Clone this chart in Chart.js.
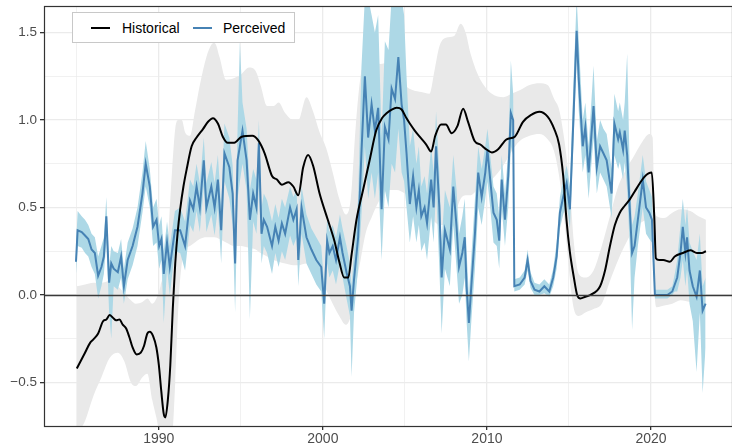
<!DOCTYPE html>
<html><head><meta charset="utf-8">
<script src="https://cdn.jsdelivr.net/npm/chart.js@4"></script>
<style>
body{margin:0;background:#fff;}
#wrap{position:relative;width:732px;height:445px;}
#legend{position:absolute;left:72px;top:12px;width:223px;height:31px;border:1px solid #c8c8c8;background:#fff;font-family:'Liberation Sans',Arial,sans-serif;font-size:14px;color:#000;box-sizing:border-box}
.key{position:absolute;top:14px;height:2px;width:19px}
.lab{position:absolute;top:7px;line-height:16px;white-space:nowrap}
</style></head><body>
<div id="wrap"><canvas id="c" width="732" height="445"></canvas>
<div id="legend">
 <div class="key" style="left:18px;background:#000"></div><div class="lab" style="left:49px">Historical</div>
 <div class="key" style="left:120px;background:#4682b4"></div><div class="lab" style="left:150px">Perceived</div>
</div></div>
<script>
// ---- Historical (smooth) series ----
const histYears = [1985.0,1985.5,1985.8,1986.0,1986.3,1986.6,1986.8,1987.0,1987.2,1987.4,1987.6,1987.8,1988.0,1988.2,1988.4,1988.65,1988.9,1989.1,1989.3,1989.45,1989.65,1989.85,1990.0,1990.15,1990.3,1990.4,1990.55,1990.7,1990.85,1991.0,1991.15,1991.3,1991.5,1991.7,1992.0,1992.3,1992.7,1993.0,1993.3,1993.6,1993.9,1994.2,1994.6,1995.05,1995.7,1996.05,1996.45,1996.9,1997.2,1997.5,1997.9,1998.2,1998.5,1998.8,1999.1,1999.4,1999.8,2000.3,2000.7,2001.0,2001.3,2001.55,2001.75,2002.05,2002.45,2002.85,2003.25,2003.6,2003.9,2004.2,2004.5,2004.8,2005.1,2005.3,2005.6,2005.9,2006.3,2006.6,2006.85,2007.2,2007.5,2007.85,2008.2,2008.55,2008.85,2009.25,2009.6,2010.0,2010.3,2010.7,2011.2,2011.7,2012.2,2012.7,2013.2,2013.7,2014.1,2014.4,2014.65,2014.85,2015.05,2015.3,2015.5,2015.7,2016.0,2016.3,2016.9,2017.2,2017.5,2017.8,2018.1,2018.4,2018.7,2019.0,2019.33,2019.6,2019.85,2020.05,2020.2,2020.3,2020.5,2020.75,2021.15,2021.45,2021.95,2022.4,2022.8,2023.1,2023.35];
const histValues = [-0.42,-0.33,-0.275,-0.255,-0.22,-0.15,-0.14,-0.115,-0.13,-0.145,-0.14,-0.17,-0.19,-0.24,-0.30,-0.34,-0.33,-0.29,-0.22,-0.21,-0.235,-0.30,-0.40,-0.55,-0.68,-0.70,-0.60,-0.40,-0.08,0.18,0.36,0.49,0.62,0.72,0.85,0.90,0.95,0.99,1.01,0.98,0.905,0.87,0.87,0.905,0.91,0.885,0.81,0.68,0.66,0.63,0.645,0.62,0.57,0.73,0.80,0.74,0.58,0.43,0.31,0.19,0.10,0.10,0.23,0.43,0.60,0.77,0.94,1.01,1.04,1.06,1.07,1.06,1.01,0.98,0.94,0.905,0.86,0.82,0.91,0.975,0.975,0.925,0.965,1.065,0.99,0.88,0.86,0.83,0.815,0.835,0.89,0.905,0.99,1.03,1.048,1.02,0.95,0.86,0.68,0.43,0.25,0.10,0.00,-0.02,-0.01,0.00,0.05,0.14,0.28,0.40,0.47,0.51,0.545,0.59,0.64,0.675,0.695,0.70,0.45,0.21,0.20,0.20,0.19,0.22,0.24,0.255,0.24,0.24,0.25];

// ---- Historical interval (grey band) ----
const histBandYears = [1985.0,1985.5,1986.0,1986.5,1987.0,1987.5,1987.9,1988.3,1988.6,1989.0,1989.3,1989.6,1989.85,1990.1,1990.5,1990.8,1991.0,1991.2,1991.4,1991.6,1991.9,1992.2,1992.5,1992.9,1993.2,1993.4,1993.7,1994.1,1994.6,1995.0,1995.5,1995.9,1996.2,1996.6,1997.0,1997.3,1997.7,1998.2,1998.5,1999.0,1999.4,1999.8,2000.2,2000.6,2001.0,2001.4,2001.7,2002.0,2002.3,2002.6,2003.0,2003.5,2004.0,2004.5,2005.0,2005.5,2006.0,2006.5,2006.8,2007.1,2007.5,2008.0,2008.4,2008.7,2009.0,2009.4,2009.8,2010.3,2011.0,2011.5,2012.0,2012.6,2013.2,2013.7,2014.1,2014.4,2014.7,2014.9,2015.1,2015.3,2015.6,2016.0,2016.5,2017.0,2017.5,2018.0,2018.5,2019.0,2019.5,2019.9,2020.1,2020.2,2020.35,2020.8,2021.3,2021.8,2022.4,2022.9,2023.35];
const histLow = [-0.80,-0.72,-0.58,-0.47,-0.36,-0.33,-0.38,-0.50,-0.52,-0.47,-0.45,-0.60,-0.70,-0.80,-0.80,-0.80,-0.50,-0.05,0.18,0.26,0.28,0.30,0.32,0.33,0.33,0.33,0.32,0.30,0.28,0.28,0.27,0.26,0.24,0.22,0.20,0.19,0.18,0.17,0.17,0.18,0.17,0.12,0.03,-0.05,-0.12,-0.17,-0.12,0.05,0.20,0.35,0.45,0.55,0.60,0.60,0.58,0.55,0.50,0.45,0.42,0.40,0.40,0.45,0.55,0.57,0.57,0.60,0.63,0.66,0.74,0.82,0.88,0.91,0.92,0.89,0.82,0.68,0.45,0.25,0.05,-0.08,-0.12,-0.10,-0.08,-0.05,0.08,0.20,0.30,0.38,0.42,0.43,0.40,0.05,-0.07,-0.06,-0.05,-0.03,-0.04,-0.05,-0.05];
const histHigh = [0.05,0.06,0.07,0.07,0.08,0.05,0.01,-0.03,-0.05,-0.04,-0.02,-0.05,-0.02,0.05,0.25,0.70,0.95,1.00,1.00,0.93,0.91,1.05,1.20,1.36,1.43,1.44,1.36,1.23,1.24,1.26,1.30,1.28,1.20,1.08,1.08,1.10,1.04,1.00,1.00,1.13,1.05,0.93,0.84,0.70,0.55,0.46,0.55,0.96,1.25,1.33,1.34,1.32,1.33,1.28,1.20,1.17,1.16,1.15,1.28,1.42,1.47,1.48,1.55,1.50,1.38,1.27,1.20,1.15,1.13,1.15,1.17,1.20,1.21,1.20,1.12,1.06,0.90,0.75,0.55,0.30,0.12,0.10,0.14,0.28,0.45,0.62,0.72,0.80,0.88,0.92,0.90,0.55,0.45,0.44,0.47,0.49,0.48,0.45,0.43];

// ---- Perceived series and its interval (blue band) ----
const percYears = [1984.95,1985.05,1985.3,1985.5,1985.7,1985.9,1986.1,1986.3,1986.5,1986.65,1986.8,1986.97,1987.1,1987.25,1987.5,1987.7,1987.87,1988.1,1988.4,1988.7,1989.0,1989.2,1989.45,1989.65,1989.86,1990.02,1990.16,1990.3,1990.5,1990.67,1990.98,1991.3,1991.6,1991.9,1992.1,1992.3,1992.5,1992.74,1992.9,1993.2,1993.4,1993.6,1993.8,1994.0,1994.3,1994.5,1994.65,1994.8,1994.94,1995.1,1995.35,1995.55,1995.75,1995.95,1996.1,1996.26,1996.4,1996.6,1996.9,1997.1,1997.3,1997.5,1997.7,1998.0,1998.2,1998.4,1998.5,1998.7,1999.0,1999.3,1999.6,1999.9,2000.08,2000.26,2000.4,2000.6,2000.8,2001.04,2001.2,2001.44,2001.65,2001.75,2001.9,2002.15,2002.35,2002.56,2002.76,2002.97,2003.17,2003.37,2003.58,2003.78,2004.0,2004.19,2004.4,2004.6,2004.8,2004.95,2005.1,2005.3,2005.5,2005.7,2005.85,2006.0,2006.2,2006.35,2006.6,2006.75,2006.9,2007.1,2007.24,2007.44,2007.74,2007.95,2008.15,2008.3,2008.5,2008.65,2008.76,2008.9,2009.07,2009.27,2009.47,2009.68,2009.9,2010.03,2010.2,2010.4,2010.6,2010.75,2010.9,2011.1,2011.3,2011.46,2011.6,2011.67,2012.0,2012.3,2012.48,2012.66,2012.9,2013.2,2013.5,2013.8,2014.04,2014.25,2014.45,2014.65,2014.86,2015.06,2015.27,2015.47,2015.6,2015.84,2016.0,2016.2,2016.5,2016.7,2016.9,2017.1,2017.3,2017.6,2017.77,2018.0,2018.1,2018.3,2018.4,2018.55,2018.72,2018.85,2019.0,2019.2,2019.5,2019.7,2019.9,2020.06,2020.24,2020.6,2021.0,2021.3,2021.45,2021.6,2021.8,2021.94,2022.1,2022.2,2022.35,2022.55,2022.78,2022.98,2023.15,2023.33];
const percValues = [0.19,0.37,0.36,0.34,0.32,0.26,0.24,0.11,0.16,0.22,0.45,0.07,0.18,0.15,0.13,0.22,0.05,0.20,0.28,0.39,0.58,0.75,0.62,0.39,0.43,0.28,0.32,0.12,0.30,0.16,0.37,0.37,0.28,0.54,0.49,0.62,0.50,0.77,0.50,0.62,0.50,0.66,0.37,0.81,0.73,0.58,0.18,0.77,0.85,0.94,0.77,0.43,0.58,0.50,0.87,0.35,0.43,0.39,0.28,0.39,0.31,0.41,0.35,0.50,0.43,0.49,0.20,0.50,0.33,0.26,0.20,0.16,-0.05,0.31,0.24,0.28,0.20,0.33,0.24,0.13,0.05,-0.09,0.09,0.33,0.81,1.25,0.90,1.09,0.94,1.07,0.49,0.96,0.89,1.18,1.12,1.36,1.09,1.00,0.81,0.52,0.68,0.50,0.60,0.45,0.50,0.41,0.66,0.50,0.85,0.50,0.10,0.37,0.26,0.62,0.39,0.16,0.24,0.33,0.05,-0.16,0.08,0.35,0.70,0.56,0.70,0.83,0.66,0.47,0.43,0.31,0.66,0.43,0.68,1.04,1.00,0.05,0.06,0.10,0.20,0.08,0.03,0.02,0.05,0.02,0.10,0.22,0.47,0.56,0.64,0.49,1.00,1.51,1.23,0.85,0.96,0.70,1.08,0.73,0.85,0.81,0.77,0.58,0.98,0.89,0.93,0.83,0.94,0.80,0.47,0.24,0.28,0.43,0.66,0.50,0.47,0.43,0.00,0.00,0.00,0.02,0.06,0.10,0.24,0.39,0.24,0.33,0.14,0.05,-0.01,0.14,-0.09,-0.05];
const percLow = [0.12,0.28,0.27,0.24,0.22,0.16,0.12,-0.02,0.05,0.12,0.30,-0.10,-0.25,0.05,0.03,0.10,-0.05,0.09,0.17,0.28,0.47,0.62,0.50,0.28,0.30,0.15,0.20,-0.16,0.15,0.00,0.25,0.24,0.14,0.40,0.36,0.48,0.36,0.62,0.36,0.46,0.34,0.50,0.18,0.65,0.55,0.40,-0.10,0.55,0.65,0.75,0.60,-0.14,0.42,0.35,0.62,0.18,0.28,0.24,0.12,0.24,0.16,0.25,0.20,0.34,0.28,0.33,0.05,0.35,0.18,0.12,0.06,0.02,-0.25,0.18,0.10,0.14,0.06,0.18,0.10,-0.02,-0.12,-0.47,-0.10,0.15,0.45,0.85,0.55,0.70,0.55,0.70,0.20,0.60,0.50,0.75,0.70,0.95,0.70,0.65,0.50,0.30,0.45,0.30,0.40,0.25,0.30,0.20,0.45,0.30,0.60,0.15,-0.22,0.15,0.05,0.40,0.15,-0.05,0.00,0.10,-0.15,-0.38,-0.12,0.15,0.50,0.40,0.55,0.65,0.50,0.30,0.28,0.15,0.50,0.28,0.50,0.85,0.80,0.02,0.03,0.06,0.14,0.04,0.00,0.00,0.01,-0.01,0.05,0.15,0.38,0.46,0.52,0.38,0.85,1.35,1.05,0.70,0.80,0.55,0.90,0.58,0.70,0.66,0.62,0.44,0.80,0.72,0.76,0.66,0.76,0.60,0.25,-0.20,0.10,0.28,0.50,0.35,0.32,0.30,-0.02,-0.02,-0.02,0.00,0.02,0.02,0.10,0.20,0.05,0.15,-0.05,-0.15,-0.44,-0.10,-0.56,-0.30];
const percHigh = [0.28,0.48,0.45,0.43,0.40,0.35,0.33,0.22,0.28,0.33,0.56,0.16,0.28,0.25,0.24,0.32,0.15,0.30,0.38,0.50,0.70,0.88,0.72,0.50,0.55,0.40,0.45,0.25,0.42,0.28,0.48,0.50,0.42,0.66,0.62,0.75,0.64,0.90,0.64,0.76,0.64,0.80,0.50,0.98,0.90,0.74,0.35,0.95,1.45,1.10,0.95,0.60,0.72,0.66,1.00,0.50,0.58,0.54,0.42,0.52,0.44,0.55,0.50,0.62,0.56,0.60,0.32,0.62,0.46,0.38,0.33,0.28,0.06,0.44,0.36,0.40,0.33,0.46,0.38,0.28,0.18,0.05,0.25,0.55,1.30,1.70,1.70,1.60,1.50,1.60,0.90,1.45,1.40,1.70,1.70,1.70,1.70,1.60,1.25,0.85,0.95,0.75,0.85,0.62,0.68,0.58,0.85,0.70,1.05,0.70,0.30,0.60,0.50,0.80,0.60,0.35,0.45,0.55,0.25,0.00,0.25,0.55,0.85,0.72,0.85,0.95,0.80,0.62,0.58,0.45,0.80,0.58,0.82,1.34,1.15,0.09,0.10,0.14,0.26,0.13,0.07,0.06,0.09,0.06,0.15,0.30,0.56,0.66,0.74,0.62,1.20,1.70,1.45,1.00,1.10,0.85,1.31,0.88,1.00,0.95,0.92,0.72,1.15,1.05,1.10,1.00,1.10,1.38,0.65,0.40,0.45,0.58,0.80,0.65,0.60,0.56,0.03,0.03,0.03,0.05,0.12,0.20,0.40,0.55,0.40,0.50,0.30,0.25,0.20,0.35,0.05,0.10];

// ---- Axis ticks ----
const xTickValues = [1985,1990,1995,2000,2005,2010,2015,2020];
const xLabelled = [1990,2000,2010,2020];
const yTickValues = [-0.5,-0.25,0,0.25,0.5,0.75,1,1.25,1.5];
const yLabelled = [-0.5,0,0.5,1,1.5];
const xRange = [1983.0, 2024.94];
const yRange = [-0.749, 1.652];
const zeroLevel = 0;

const pts = (xs, ys) => xs.map((x, i) => ({x: x, y: ys[i]}));
const isLab = (arr, v) => arr.some(a => Math.abs(a - v) < 1e-9);
const fmtY = v => (v < 0 ? '\u2212' : '') + Math.abs(v).toFixed(1);

Chart.defaults.font.family = "'Liberation Sans', Arial, sans-serif";

const framePlugin = {
  id: 'frame',
  afterDatasetsDraw(chart) {
    const {ctx, chartArea: a, scales} = chart;
    const y0 = Math.round(scales.y.getPixelForValue(zeroLevel)) + 0.5;
    ctx.save();
    ctx.strokeStyle = '#3a3a3a';
    ctx.lineWidth = 1.3;
    ctx.beginPath(); ctx.moveTo(a.left, y0); ctx.lineTo(a.right, y0); ctx.stroke();
    ctx.strokeStyle = '#333333';
    ctx.lineWidth = 1.2;
    ctx.strokeRect(a.left + 0.5, a.top + 0.5, a.right - a.left, a.bottom - a.top);
    ctx.restore();
  }
};

new Chart(document.getElementById('c'), {
  type: 'line',
  data: {
    datasets: [
      {label: 'histLow', data: pts(histBandYears, histLow), borderWidth: 0, pointRadius: 0, fill: false, cubicInterpolationMode: 'monotone', order: 6, borderColor: 'rgba(0,0,0,0)'},
      {label: 'histHigh', data: pts(histBandYears, histHigh), borderWidth: 0, pointRadius: 0, fill: '-1', backgroundColor: '#e9e9e9', cubicInterpolationMode: 'monotone', order: 5, borderColor: 'rgba(0,0,0,0)'},
      {label: 'percLow', data: pts(percYears, percLow), borderWidth: 0, pointRadius: 0, fill: false, order: 4, borderColor: 'rgba(0,0,0,0)'},
      {label: 'percHigh', data: pts(percYears, percHigh), borderWidth: 0, pointRadius: 0, fill: '-1', backgroundColor: '#add8e6', order: 3, borderColor: 'rgba(0,0,0,0)'},
      {label: 'Perceived', data: pts(percYears, percValues), borderColor: '#4682b4', borderWidth: 2, pointRadius: 0, fill: false, order: 2, tension: 0},
      {label: 'Historical', data: pts(histYears, histValues), borderColor: '#000000', borderWidth: 2, pointRadius: 0, fill: false, order: 1, cubicInterpolationMode: 'monotone'}
    ]
  },
  options: {
    responsive: false,
    animation: false,
    events: [],
    layout: {padding: {top: 6, right: 0, left: 0, bottom: 0}},
    plugins: {legend: {display: false}, tooltip: {enabled: false}},
    scales: {
      x: {
        type: 'linear', min: xRange[0], max: xRange[1],
        afterBuildTicks: s => { s.ticks = xTickValues.map(v => ({value: v})); },
        afterFit: s => { s.height = 19; s.paddingLeft = 0; s.paddingRight = 0; },
        ticks: {autoSkip: false, maxRotation: 0, padding: 1, color: '#4d4d4d', font: {size: 14},
          callback: v => isLab(xLabelled, v) ? String(v) : ''},
        grid: {color: '#ebebeb', lineWidth: c => isLab(xLabelled, c.tick.value) ? 1.3 : 0.7,
          tickColor: c => isLab(xLabelled, c.tick.value) ? '#333333' : 'rgba(0,0,0,0)', tickLength: 4, drawTicks: true},
        border: {display: false}
      },
      y: {
        type: 'linear', min: yRange[0], max: yRange[1],
        afterBuildTicks: s => { s.ticks = yTickValues.map(v => ({value: v})); },
        afterFit: s => { s.width = 44; s.paddingTop = 0; s.paddingBottom = 0; },
        ticks: {autoSkip: false, padding: 3, color: '#4d4d4d', font: {size: 13.5},
          callback: v => isLab(yLabelled, v) ? fmtY(v) : ''},
        grid: {color: '#ebebeb', lineWidth: c => isLab(yLabelled, c.tick.value) ? 1.3 : 0.7,
          tickColor: c => isLab(yLabelled, c.tick.value) ? '#333333' : 'rgba(0,0,0,0)', tickLength: 4, drawTicks: true},
        border: {display: false}
      }
    }
  },
  plugins: [framePlugin]
});
</script>
</body></html>
